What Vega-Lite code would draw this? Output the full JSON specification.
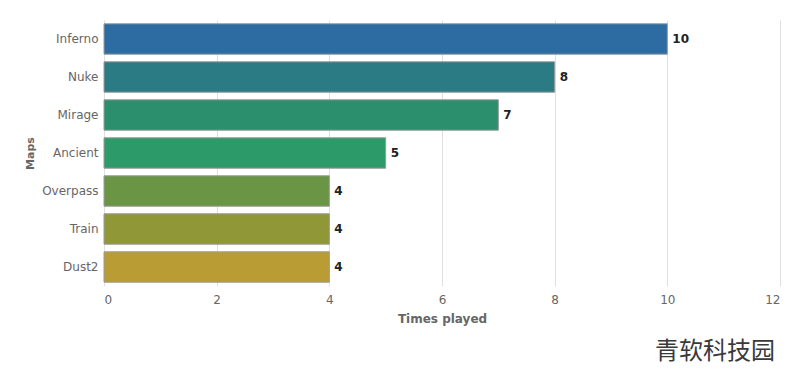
{
  "$schema": "https://vega.github.io/schema/vega-lite/v6.json",
  "width": 676,
  "height": 266,
  "autosize": {"type": "none"},
  "padding": {"left": 104, "top": 20, "right": 20, "bottom": 90},
  "background": "white",
  "config": {
    "view": {"stroke": null},
    "font": "DejaVu Sans",
    "title": {"font": "Noto Sans CJK SC"}
  },
  "title": {
    "text": "青软科技园",
    "orient": "bottom",
    "anchor": "end",
    "fontSize": 24,
    "fontWeight": "normal",
    "color": "#3a3a3a",
    "offset": 16,
    "dx": -5
  },
  "data": {
    "values": [
      {"map": "Inferno", "times": 10},
      {"map": "Nuke", "times": 8},
      {"map": "Mirage", "times": 7},
      {"map": "Ancient", "times": 5},
      {"map": "Overpass", "times": 4},
      {"map": "Train", "times": 4},
      {"map": "Dust2", "times": 4}
    ]
  },
  "encoding": {
    "y": {
      "field": "map",
      "type": "nominal",
      "sort": null,
      "title": "Maps",
      "scale": {"paddingInner": 0.2, "paddingOuter": 0.1},
      "axis": {
        "domain": false,
        "ticks": false,
        "labelPadding": 6,
        "labelFontSize": 12,
        "labelColor": "#666666",
        "titleFontSize": 11,
        "titleFontWeight": "bold",
        "titleColor": "#666666",
        "titlePadding": 6
      }
    },
    "x": {
      "field": "times",
      "type": "quantitative",
      "title": "Times played",
      "scale": {"domain": [0, 12], "nice": false},
      "axis": {
        "values": [0, 2, 4, 6, 8, 10, 12],
        "domain": false,
        "ticks": false,
        "grid": true,
        "gridColor": "#e0e0e0",
        "labelPadding": 8,
        "labelFontSize": 12,
        "labelColor": "#666666",
        "titleFontSize": 12,
        "titleFontWeight": "bold",
        "titleColor": "#666666",
        "titlePadding": 8
      }
    }
  },
  "layer": [
    {
      "mark": {"type": "bar", "stroke": "#9a9a9a", "strokeWidth": 1},
      "encoding": {
        "color": {
          "field": "map",
          "type": "nominal",
          "sort": null,
          "legend": null,
          "scale": {
            "domain": ["Inferno", "Nuke", "Mirage", "Ancient", "Overpass", "Train", "Dust2"],
            "range": ["#2c6ca3", "#2b7b85", "#2b8f6e", "#2d9a69", "#6a9544", "#909736", "#b99d34"]
          }
        }
      }
    },
    {
      "mark": {"type": "text", "align": "left", "dx": 5, "fontSize": 12, "fontWeight": "bold", "color": "#222222"},
      "encoding": {"text": {"field": "times", "type": "quantitative"}}
    }
  ]
}
